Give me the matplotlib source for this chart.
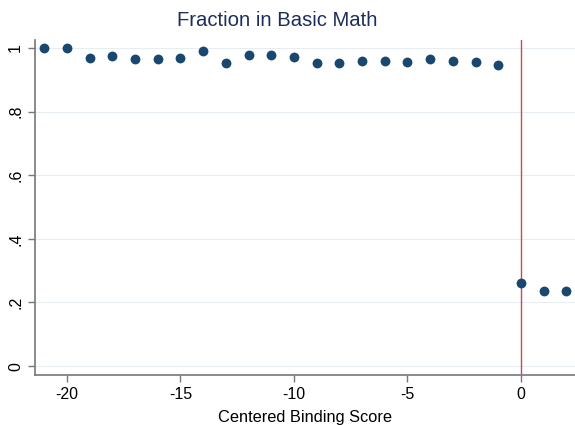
import matplotlib
matplotlib.use("Agg")
import matplotlib.pyplot as plt
import numpy as np

plt.rcParams['font.family'] = ['Liberation Sans', 'DejaVu Sans']

# centered binding score and fraction in basic math
score = [-21, -20, -19, -18, -17, -16, -15, -14, -13, -12, -11, -10,
         -9, -8, -7, -6, -5, -4, -3, -2, -1, 0, 1, 2]
frac = [1.0, 1.0, 0.969, 0.976, 0.965, 0.965, 0.969, 0.99, 0.953, 0.978,
        0.978, 0.972, 0.953, 0.953, 0.96, 0.96, 0.956, 0.965, 0.959, 0.956,
        0.947, 0.261, 0.236, 0.236]
yticks = [0, 0.2, 0.4, 0.6, 0.8, 1.0]
ylabels = ["0", ".2", ".4", ".6", ".8", "1"]
xticks = [-20, -15, -10, -5, 0]

fig = plt.figure(figsize=(5.75, 4.25), dpi=100, facecolor='white')
ax = fig.add_axes([35/575, 1 - 375/425, 540/575, 335/425])

for y in yticks:
    ax.axhline(y, color='#e6eef2', lw=0.8, zorder=0)
ax.axvline(0, color='#d9434f', lw=1.0, zorder=1)
ax.scatter(score, frac, s=50, color='#1a476f', zorder=3, linewidths=0)

ax.set_xlim(-21.41, 2.38)
ax.set_ylim(-0.028, 1.025)
ax.set_xticks(xticks)
ax.set_xticklabels([str(t) for t in xticks], fontsize=11.5)
ax.set_yticks(yticks)
ax.set_yticklabels(ylabels, fontsize=11.5, rotation=90, va='center')
ax.tick_params(direction='out', length=5, color='#777777', width=1)

for s in ['top', 'right']:
    ax.spines[s].set_visible(False)
for s in ['left', 'bottom']:
    ax.spines[s].set_color('#777777')
    ax.spines[s].set_linewidth(1.2)

ax.set_xlabel("Centered Binding Score", fontsize=11.8, labelpad=6)
fig.text(277/575, 1 - 20/425, "Fraction in Basic Math", ha='center', va='center',
         fontsize=14.6, color='#1e2d5c')

fig.savefig("out.png", dpi=100)
